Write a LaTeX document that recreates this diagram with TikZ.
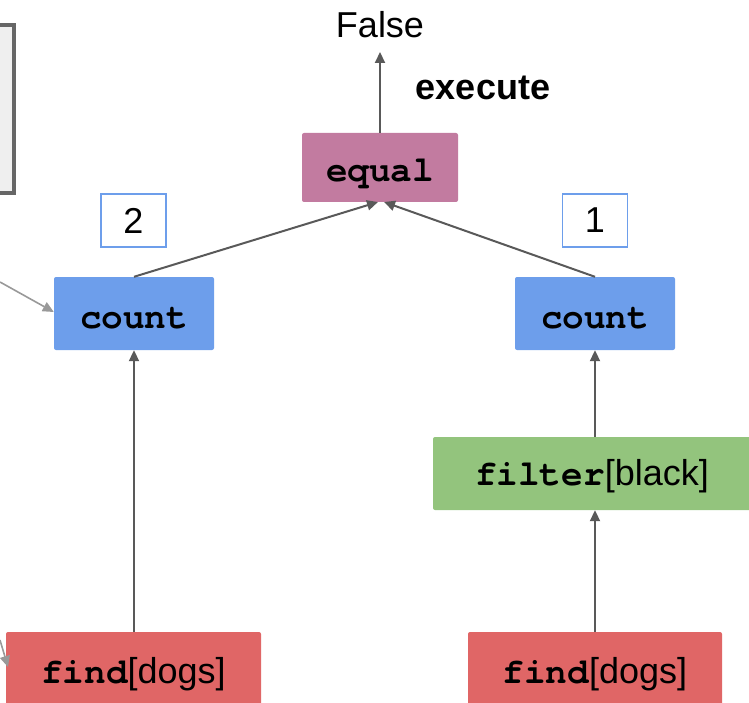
\documentclass[tikz,border=0pt]{standalone}
\usepackage{fontspec}
\setmainfont{Liberation Sans}
\newfontfamily\codefont[Ligatures={NoCommon}]{TeX Gyre Cursor}
\usetikzlibrary{arrows.meta}
\definecolor{opred}{HTML}{E06666}
\definecolor{opblue}{HTML}{6D9EEB}
\definecolor{opgreen}{HTML}{93C47D}
\definecolor{oppink}{HTML}{C27BA0}
\definecolor{edgegray}{HTML}{595959}
\definecolor{sidegray}{HTML}{999999}
\definecolor{panelfill}{HTML}{EFEFEF}
\definecolor{panelline}{HTML}{666666}
\tikzset{
  % the baseline sits #1 below the box centre
  op/.style={rectangle, rounded corners=2pt, inner sep=0pt, text=black,
    font=\fontsize{36}{36}\selectfont, text height=2*#1, text depth=0pt},
  op/.default=14.5pt,
  numbox/.style={rectangle, draw=opblue, line width=1.5pt, fill=white,
    minimum width=65pt, minimum height=53pt, inner sep=0pt,
    font=\fontsize{36}{36}\selectfont},
  flow/.style={draw=edgegray, line width=2pt, -{Triangle[length=11pt,width=10pt]}},
  side/.style={draw=sidegray, line width=1.6pt, -{Triangle[length=11pt,width=10pt]}},
}
\newcommand{\cw}[1]{{\codefont\bfseries #1}}
\begin{document}
\begin{tikzpicture}[x=1pt, y=-1pt]
\useasboundingbox (0,0) rectangle (749,703);
\begin{scope}
\clip (0,0) rectangle (749,703);
% side panel on the left
\node[draw=panelline, fill=panelfill, line width=4pt, minimum width=60pt,
  minimum height=168pt, inner sep=0pt] (panel) at (-16,109) {};

% operations
\node[op, fill=oppink, minimum width=156pt, minimum height=69pt] (equal) at (380,167.5) {\cw{equal}};
\node[op, fill=opblue, minimum width=160pt, minimum height=73pt] (countL) at (134,313.5) {\cw{count}};
\node[op, fill=opblue, minimum width=160pt, minimum height=73pt] (countR) at (595,313.5) {\cw{count}};
\node[op=11.5pt, fill=opgreen, minimum width=318pt, minimum height=73pt] (filter) at (592,473.5) {\cw{filter}[black]};
\node[op, fill=opred, minimum width=255pt, minimum height=73pt] (findL) at (133.5,668.5) {\cw{find}[dogs]};
\node[op, fill=opred, minimum width=254pt, minimum height=73pt] (findR) at (595,668.5) {\cw{find}[dogs]};

% intermediate results
\node[numbox] (n2) at (133.5,220.5) {2};
\node[numbox] (n1) at (595,220.5) {1};

% output and label
\node[font=\fontsize{36}{36}\selectfont, inner sep=0pt] (out) at (380,25) {False};
\node[font=\fontsize{36}{36}\selectfont\bfseries, inner sep=0pt] (exec) at (483,88) {execute};

% connectors
\coordinate (eqInL) at (378,202);
\coordinate (eqInR) at (384,202);
\draw[flow] (equal.north) -- (380,52);
\draw[flow] (countL.north) -- (eqInL);
\draw[flow] (countR.north) -- (eqInR);
\draw[flow] (findL.north -| countL.south) -- (countL.south);
\draw[flow] (filter.north -| countR.south) -- (countR.south);
\draw[flow] (findR.north) -- (findR.north |- filter.south);

% inputs entering from the left
\coordinate (sideA) at (0,282);
\coordinate (sideB) at (0,640);
\draw[side] (sideA) -- (countL.west |- 0,312);
\draw[side] (sideB) -- (8,667);
\end{scope}
\end{tikzpicture}
\end{document}
